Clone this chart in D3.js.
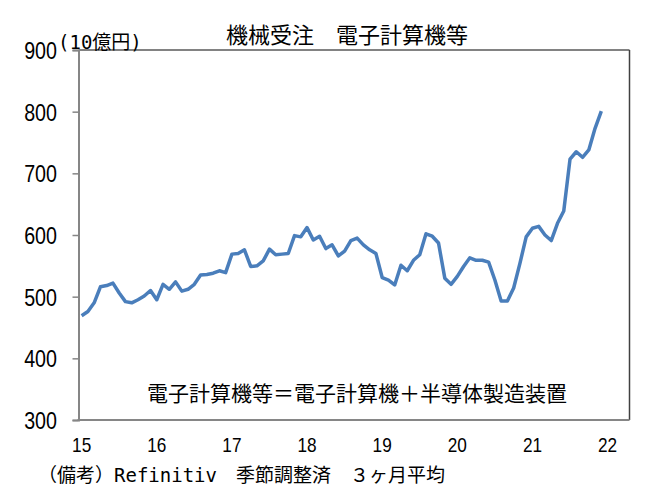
<!DOCTYPE html>
<html lang="ja">
<head>
  <meta charset="UTF-8">
  <title>機械受注　電子計算機等</title>
  <script src="https://d3js.org/d3.v7.min.js"></script>
  <style>
    body { margin: 0; background: #fff; }
    .num { font-family: "Liberation Sans", Arial, sans-serif; fill: #000; }
    .jp { font-family: "Noto Sans CJK JP", sans-serif; fill: #000; }
    .note { font-family: "DejaVu Sans Mono", "Noto Sans CJK JP", monospace; fill: #000; }
  </style>
</head>
<body>
<script>
  // monthly values, Jan 2015 .. Dec 2021 (10億円, 3ヶ月平均)
  const values2015 = [469, 476, 490, 516, 518, 522, 506, 492, 490, 495, 501, 510];
  const values2016 = [495, 520, 512, 524, 509, 512, 520, 535, 536, 538, 542, 539];
  const values2017 = [569, 570, 576, 549, 550, 558, 577, 568, 569, 570, 599, 597];
  const values2018 = [612, 592, 598, 578, 584, 566, 574, 591, 595, 584, 576, 570];
  const values2019 = [531, 527, 519, 551, 542, 559, 568, 602, 598, 587, 530, 520];
  const values2020 = [533, 549, 563, 559, 559, 556, 527, 493, 493, 514, 554, 597];
  const values2021 = [611, 614, 600, 591, 619, 639, 723, 735, 726, 738, 773, 801];
  const values = [].concat(values2015, values2016, values2017, values2018,
                           values2019, values2020, values2021);

  const yearLabels = ["15", "16", "17", "18", "19", "20", "21", "22"];
  const yTicks = [300, 400, 500, 600, 700, 800, 900];

  const width = 654, height = 500;
  const plotL = 78.5, plotR = 629.5, plotT = 50, plotB = 420;

  const svg = d3.select("body").append("svg")
    .attr("width", width)
    .attr("height", height);

  // x is a month index, 0 = Jan 2015; axis runs through Apr 2022
  const x = d3.scaleLinear().domain([-0.5, 87.5]).range([plotL, plotR]);
  const y = d3.scaleLinear().domain([300, 900]).range([plotB, plotT]);

  // frame: top and right darker, left and bottom axis grey
  svg.append("line")
    .attr("x1", plotL).attr("x2", plotR).attr("y1", plotT).attr("y2", plotT)
    .attr("stroke", "#595959").attr("stroke-width", 1.5);
  svg.append("line")
    .attr("x1", plotR).attr("x2", plotR).attr("y1", plotT).attr("y2", plotB)
    .attr("stroke", "#404040").attr("stroke-width", 1.5);

  const yAxis = svg.append("g")
    .attr("transform", `translate(${plotL},0)`)
    .call(d3.axisLeft(y).tickValues(yTicks).tickSize(6).tickFormat(""));
  yAxis.select(".domain").attr("stroke", "#868686").attr("stroke-width", 2);
  yAxis.selectAll(".tick line").attr("stroke", "#868686").attr("stroke-width", 1.5);

  svg.append("line")
    .attr("x1", plotL - 1).attr("x2", plotR).attr("y1", plotB).attr("y2", plotB)
    .attr("stroke", "#868686").attr("stroke-width", 2);

  // y tick labels (narrow digits)
  svg.selectAll(".ylab")
    .data(yTicks)
    .enter().append("text")
    .attr("class", "num")
    .attr("transform", d => `translate(57,${y(d) + 9}) scale(0.82,1)`)
    .attr("text-anchor", "end")
    .attr("font-size", 24)
    .text(d => d);

  // x year labels at each January
  svg.selectAll(".xlab")
    .data(yearLabels)
    .enter().append("text")
    .attr("class", "num")
    .attr("transform", (d, i) => `translate(${x(i * 12)},452) scale(0.82,1)`)
    .attr("text-anchor", "middle")
    .attr("font-size", 21)
    .text(d => d);

  // series
  const line = d3.line()
    .x((d, i) => x(i))
    .y(d => y(d));

  svg.append("path")
    .datum(values)
    .attr("fill", "none")
    .attr("stroke", "#4a7ebb")
    .attr("stroke-width", 3.5)
    .attr("stroke-linejoin", "round")
    .attr("d", line);

  // texts
  svg.append("text")
    .attr("class", "jp")
    .attr("x", 347).attr("y", 43)
    .attr("text-anchor", "middle")
    .attr("font-size", 22)
    .text("機械受注　電子計算機等");

  svg.append("text")
    .attr("class", "note")
    .attr("x", 58).attr("y", 49)
    .attr("font-size", 19)
    .text("(10億円)");

  svg.append("text")
    .attr("class", "jp")
    .attr("x", 357).attr("y", 401)
    .attr("text-anchor", "middle")
    .attr("font-size", 21)
    .text("電子計算機等＝電子計算機＋半導体製造装置");

  svg.append("text")
    .attr("class", "note")
    .attr("x", 38).attr("y", 482)
    .attr("font-size", 19)
    .text("（備考）Refinitiv　季節調整済　３ヶ月平均");
</script>
</body>
</html>
